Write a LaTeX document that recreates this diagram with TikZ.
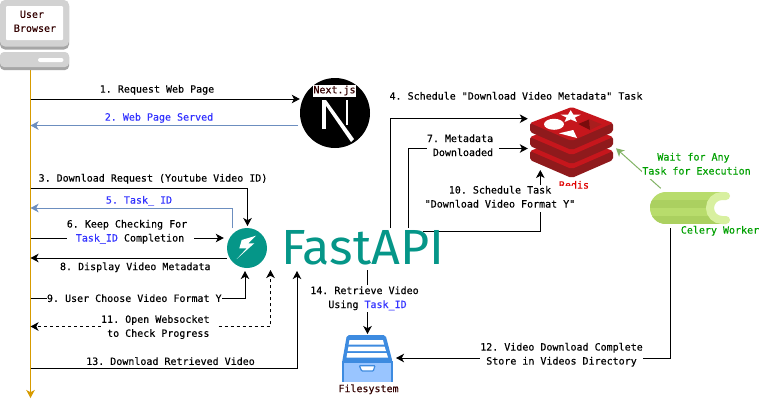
\documentclass[tikz,border=0pt]{standalone}
\usepackage{fontspec}
\setmonofont[FakeBold=0.25]{DejaVu Sans Mono}
\newfontfamily\logofont{Fira Sans}
\usetikzlibrary{arrows.meta,backgrounds,shapes.geometric}
\definecolor{lifec}{HTML}{D79B00}
\definecolor{backc}{HTML}{6C8EBF}
\definecolor{idc}{HTML}{3333FF}
\definecolor{darkr}{HTML}{330000}
\definecolor{fastc}{HTML}{059688}
\definecolor{grn}{HTML}{00A000}
\definecolor{grnl}{HTML}{82B366}
\definecolor{redface}{HTML}{C6161C}
\definecolor{redside}{HTML}{8F1A1C}
\definecolor{redtxt}{HTML}{E00000}
\definecolor{reddk}{HTML}{7A0C0C}
\definecolor{redmd}{HTML}{A81E1E}
\definecolor{celA}{HTML}{B8DC6C}
\definecolor{celB}{HTML}{ABD060}
\definecolor{celC}{HTML}{D8F0A0}
\definecolor{fsb}{HTML}{3D8BE0}
\definecolor{fsl}{HTML}{99C5FF}
\definecolor{grayf}{HTML}{D2D2D2}
\definecolor{grayd}{HTML}{A6A6A6}
\newcommand{\tid}{\textcolor{idc}{Task\_ID}}
\tikzset{
  x=1pt,y=-1pt,
  tip/.style={-{Stealth[length=8pt,width=8.5pt,inset=2.2pt]}},
  conn/.style={draw=black,line width=1pt,tip},
  seg/.style={draw=black,line width=1pt},
  lbl/.style={font=\ttfamily\fontsize{10}{14}\selectfont,inner sep=0pt,fill=white,align=center,yshift=-0.8pt,execute at begin node=\strut},
  plain/.style={font=\ttfamily\fontsize{10}{14}\selectfont,inner sep=0pt,align=center,yshift=-0.8pt,execute at begin node=\strut},
}
\begin{document}
\begin{tikzpicture}
\useasboundingbox (0,0) rectangle (761,408);
% ---- browser icon
\node[inner sep=0,minimum width=69pt,minimum height=70pt] (browser) at (34.5,35) {};
\fill[grayd,rounded corners=5pt] (0,1) rectangle (69,49.5);
\fill[grayf,rounded corners=5pt] (0,0) rectangle (69,46.5);
\fill[white,rounded corners=1pt] (6,6) rectangle (63,40);
\fill[grayd,rounded corners=4pt] (0,53) rectangle (69,70);
\fill[grayf,rounded corners=4pt] (0,52) rectangle (69,67);
\fill[white,rounded corners=2pt] (38,58) rectangle (63.5,62);
\node[plain,text=darkr] (browserlabel) at (35,22.5) {User\phantom{.}\\\strut Browser};
% ---- next.js icon
\node[circle,fill=black,inner sep=0,minimum size=70pt] (nextjs) at (335,113) {};
\begin{scope}
\clip (335,113) circle (35);
\fill[white] (322,100) rectangle (326,129);
\fill[white] (345.5,100) rectangle (347.8,125);
\fill[white] (322,100) -- (326,100) -- (354,139) -- (351,142) -- cycle;
\end{scope}
\node[font=\ttfamily\fontsize{10}{12}\selectfont,text=darkr,fill=white,inner xsep=0.5pt,inner ysep=0pt,minimum height=12pt] (nextlabel) at (334.5,90.5) {Next.js};
% ---- redis icon
\node[inner sep=0,minimum width=87pt,minimum height=70pt] (redis) at (571.5,143) {};
\foreach \d in {28,14,0}{
  \fill[redside,rounded corners=2pt] (530,123+\d) -- (530,132+\d) -- (571.7,150+\d) -- (613,132+\d) -- (613,123+\d) -- cycle;
  \fill[redface,rounded corners=2pt] (530,123+\d) -- (571.7,107+\d) -- (613,123+\d) -- (571.7,141+\d) -- cycle;
}
\fill[white] (570.7,110.2) -- (573.3,114.5) -- (580.7,114.7) -- (574.9,117.5) -- (576.9,122) -- (570.7,119.4) -- (564.5,122) -- (566.5,117.5) -- (560.7,114.7) -- (568.1,114.5) -- cycle;
\fill[white] (554,124.3) ellipse (10 and 5.5);
\fill[white] (559,133.3) -- (573.3,130) -- (577,138) -- cycle;
\fill[reddk] (578.3,124) -- (589.3,119.3) -- (590,130) -- cycle;
\fill[redmd] (589.3,119.3) -- (601.7,124.3) -- (590,130) -- cycle;
\node[plain,text=redtxt] (redislabel) at (574,185) {Redis};
% ---- fastapi logo
\node[circle,fill=fastc,inner sep=0,minimum size=40pt] (fastapi) at (247,248) {};
\fill[white] (241.7,240) -- (256,235.7) -- (248.3,243.3) -- (254.3,243.3) -- (236.7,259) -- (246.7,248.3) -- (239.3,248.3) -- cycle;
\node[anchor=south west,inner sep=0,text=fastc] (fastapitext) at (281,265) {\resizebox{163pt}{34pt}{\logofont FastAPI}};
% ---- celery icon
\node[inner sep=0,minimum width=80pt,minimum height=32pt] (celery) at (690,208) {};
\begin{scope}
\clip[rounded corners=15.9pt] (650,192) rectangle (760,224);
\fill[celA] (650,192) rectangle (722,224);
\fill[celB] (650,200) rectangle (722,208);
\fill[celB] (650,216) rectangle (722,224);
\end{scope}
\fill[white] (714,200) rectangle (730,216);
\draw[celC,line width=8pt,line cap=round] (726,196) -- (722,196) arc[start angle=-90,end angle=-270,radius=12] -- (726,220);
\node[plain,text=grn] (celerylabel) at (720,230) {Celery Worker};
% ---- filesystem icon
\node[inner sep=0,minimum width=50pt,minimum height=46pt] (files) at (367.3,358.5) {};
\fill[fsb,draw=fsb,line width=1.6pt,rounded corners=1.5pt] (343,361.7) -- (347.5,336) -- (385,336) -- (391.7,361.7) -- cycle;
\fill[white] (349.5,340) -- (383,340) -- (384,344.5) -- (348.7,344.5) -- cycle;
\fill[white] (348.5,346.5) -- (384.5,346.5) -- (386,351) -- (347.7,351) -- cycle;
\fill[white] (347.3,353) -- (386.5,353) -- (388,357.5) -- (346.5,357.5) -- cycle;
\fill[fsl,draw=fsb,line width=1.6pt] (343,361.7) rectangle (391.7,386);
\fill[white,draw=fsb,line width=1.2pt,rounded corners=0.8pt] (359.3,365.7) -- (375,365.7) -- (373.3,371) -- (361.7,371) -- cycle;
\node[lbl,text=darkr,minimum width=60pt] (fileslabel) at (368.5,388.5) {Filesystem};
% ---- labels
\node[lbl] (l1) at (157,89) {1. Request Web Page};
\node[lbl,text=idc] (l2) at (159,117) {2. Web Page Served};
\node[lbl] (l3) at (153,178) {3. Download Request (Youtube Video ID)};
\node[lbl] (l4) at (516,96) {4. Schedule "Download Video Metadata" Task};
\node[lbl,text=idc] (l5) at (139,200) {5. Task\_ ID};
\node[lbl] (l6) at (127,232) {6. Keep Checking For\\\strut\phantom{.}\tid{} Completion};
\node[lbl,align=right] (l7) at (460,146.5) {7. Metadata\\\strut Downloaded};
\node[lbl] (l8) at (135.3,266.5) {8. Display Video Metadata};
\node[lbl] (l9) at (134.3,298.3) {9. User Choose Video Format Y};
\node[lbl] (l10) at (500,198) {10. Schedule Task\\\strut "Download Video Format Y"};
\node[lbl,align=right] (l11) at (155.3,327.3) {11. Open Websocket\\\strut to Check Progress};
\node[lbl] (l12) at (561.5,355) {12. Video Download Complete\\\strut Store in Videos Directory};
\node[plain] (l13) at (170.5,361.3) {13. Download Retrieved Video};
\node[lbl] (l14) at (364.5,298.5) {14. Retrieve Video\\\strut\phantom{.}Using \tid};
\node[lbl,text=grn] (lwait) at (696.5,165) {Wait for Any\phantom{.}\\\strut Task for Execution};
% ---- connectors
\coordinate (life) at (30.5,60);
\coordinate (lifeend) at (30.5,398);
\begin{scope}[on background layer]
\fill[white] (0,0) rectangle (761,408);
\draw[lifec,line width=1pt,tip] (life) -- (lifeend);
\draw[conn] (life |- 0,99) -- (nextjs.west |- 0,99);
\draw[conn,draw=backc] (298,125.5) -- (life |- 0,125.5);
\draw[conn] (life |- 0,188) -- (247.5,188) -- (247.5,226);
\draw[conn,draw=backc] (232,228) -- (232,208) -- (life |- 0,208);
\draw[seg] (life |- 0,238) -- (l6.west |- 0,238);
\draw[conn] ([xshift=7pt]l6.east |- 0,238) -- ([xshift=-3pt]fastapi.west |- 0,238);
\draw[conn] (fastapi.west |- 0,258) -- (life |- 0,258);
\draw[seg] (life |- 0,298) -- (l9.west |- 0,298);
\draw[conn] (l9.east |- 0,298) -- (245,298) -- (245,271);
\draw[conn,dash pattern=on 3pt off 3pt] (l11.west |- 0,326.5) -- (life |- 0,326.5);
\draw[conn,dash pattern=on 3pt off 3pt] ([xshift=9pt]l11.east |- 0,326.5) -- (270.5,326.5) -- (270.5,270);
\draw[conn] (life |- 0,368) -- (297,368) -- (297,271);
\draw[conn] (390,228) -- (390,118.7) -- (redis.west |- 0,118.7);
\draw[seg] (408,228) -- (408,148.5) -- (l7.west |- 0,148.5);
\draw[conn] ([xshift=6pt]l7.east |- 0,148.5) -- (redis.west |- 0,148.5);
\draw[seg] (423,231.5) -- (540.3,231.5) -- (540.3,212);
\draw[conn] (540.3,185) -- (540.3,170);
\draw[conn,draw=grnl] (660.7,188.3) -- (616,148.3);
\draw[seg] (670.5,228) -- (670.5,358) -- (l12.east |- 0,358);
\draw[conn] (l12.west |- 0,358) -- (396,358);
\draw[seg] (367,270) -- (367,285);
\draw[conn] (367.5,312) -- (367.5,334);
\end{scope}
\end{tikzpicture}
\end{document}
